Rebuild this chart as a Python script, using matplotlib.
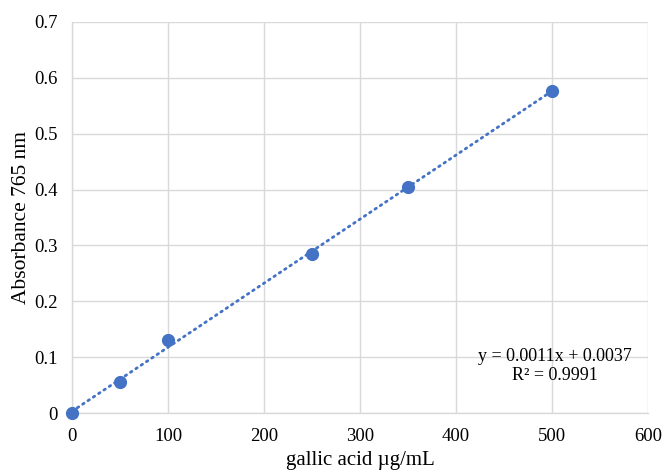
import numpy as np
import matplotlib
matplotlib.use('Agg')
import matplotlib.pyplot as plt

# Data
conc = [0, 50, 100, 250, 350, 500]
absorb = [0.0, 0.056, 0.130, 0.284, 0.405, 0.577]
x_ticks = [0, 100, 200, 300, 400, 500, 600]
y_ticks = [0, 0.1, 0.2, 0.3, 0.4, 0.5, 0.6, 0.7]
y_tick_labels = ['0', '0.1', '0.2', '0.3', '0.4', '0.5', '0.6', '0.7']
eq_text = 'y = 0.0011x + 0.0037\nR² = 0.9991'

plt.rcParams['font.family'] = ['Liberation Serif', 'DejaVu Serif']

fig = plt.figure(figsize=(6.62, 4.71), dpi=100)
ax = fig.add_axes([0.1088, 0.1231, 0.8702, 0.8302])

blue = '#4472C4'
grid_c = '#D9D9D9'

# linear trendline
slope, icpt = np.polyfit(conc, absorb, 1)
xl = np.array([min(conc), max(conc)])
ax.plot(xl, slope * xl + icpt, color=blue, lw=2.0, linestyle=(0, (0.6, 1.7)),
        dash_capstyle='round', zorder=3)
ax.plot(conc, absorb, 'o', color=blue, ms=8.5, zorder=4, clip_on=False)

ax.set_xlim(0, 600)
ax.set_ylim(0, 0.7)
ax.set_xticks(x_ticks)
ax.set_yticks(y_ticks)
ax.set_yticklabels(y_tick_labels)
ax.grid(True, color=grid_c, lw=1.0)
ax.set_axisbelow(True)
for s in ['top', 'right']:
    ax.spines[s].set_visible(False)
for s in ['left', 'bottom']:
    ax.spines[s].set_color(grid_c)
    ax.spines[s].set_linewidth(1.0)
ax.tick_params(length=0, labelsize=13.5, colors='black', pad=10.5)

ax.set_xlabel('gallic acid µg/mL', fontsize=15, labelpad=4.5)
ax.set_ylabel('Absorbance 765 nm', fontsize=15.5, labelpad=2)

ax.text(503, 0.085, eq_text, ha='center', va='center', fontsize=13,
        linespacing=1.15)

fig.savefig('out.png', dpi=100)
